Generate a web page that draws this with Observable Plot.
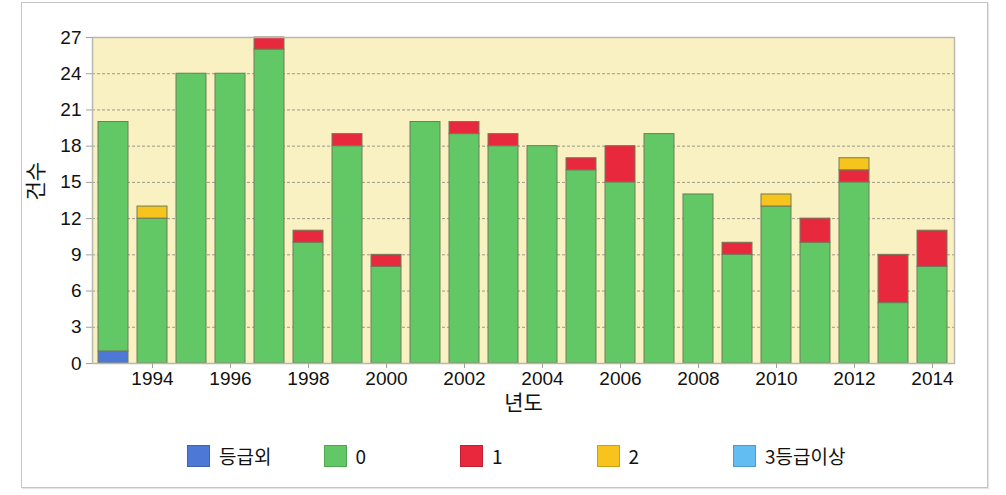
<!DOCTYPE html>
<html>
<head>
<meta charset="utf-8">
<script src="https://cdn.jsdelivr.net/npm/d3@7"></script>
<script src="https://cdn.jsdelivr.net/npm/@observablehq/plot@0.6"></script>
<style>
  html, body { margin: 0; padding: 0; background: #fff; }
  #wrap { position: relative; width: 1006px; height: 495px; overflow: hidden; font-family: "Liberation Sans", Arial, sans-serif; }
  #border { position: absolute; left: 21px; top: 2px; width: 965px; height: 484px; border: 1.5px solid #c4c4c4; box-shadow: 1px 1px 1px #e6e6e6; }
  #chart { position: absolute; left: 0; top: 0; }
  #legend { position: absolute; left: 187px; top: 444px; height: 24px; display: flex; }
  .item { width: 136.5px; display: flex; align-items: center; }
  .sw { width: 23px; height: 22px; box-sizing: border-box; border: 1px solid rgba(0,0,0,0.18); margin-right: 9px; flex: none; }
  .lab { font-family: "Noto Sans CJK KR", "Liberation Sans", sans-serif; font-size: 19px; color: #111; line-height: 22px; }
</style>
</head>
<body>
<div id="wrap">
  <div id="border"></div>
  <div id="chart"></div>
  <div id="legend"></div>
</div>
<script>
// ---- data ----
const years = [1993,1994,1995,1996,1997,1998,1999,2000,2001,2002,2003,2004,2005,2006,2007,2008,2009,2010,2011,2012,2013,2014];
const grades = ["등급외", "0", "1", "2", "3등급이상"];
const gradeColors = ["#4d78d5", "#62c866", "#e8283d", "#f6c41c", "#62bdf2"];
const gradeOut = [1,0,0,0,0,0,0,0,0,0,0,0,0,0,0,0,0,0,0,0,0,0];
const grade0   = [19,12,24,24,26,10,18,8,20,19,18,18,16,15,19,14,9,13,10,15,5,8];
const grade1   = [0,0,0,0,1,1,1,1,0,1,1,0,1,3,0,0,1,0,2,1,4,3];
const grade2   = [0,1,0,0,0,0,0,0,0,0,0,0,0,0,0,0,0,1,0,1,0,0];
const grade3   = [0,0,0,0,0,0,0,0,0,0,0,0,0,0,0,0,0,0,0,0,0,0];
const yTicks = [0,3,6,9,12,15,18,21,24,27];
const xTickYears = [1994,1996,1998,2000,2002,2004,2006,2008,2010,2012,2014];
const yLabel = "건수";
const xLabel = "년도";

const series = [gradeOut, grade0, grade1, grade2, grade3];
const rows = [];
years.forEach((yr, i) => {
  grades.forEach((g, k) => {
    if (series[k][i] > 0) rows.push({year: yr, grade: g, value: series[k][i]});
  });
});

const chart = Plot.plot({
  width: 1006,
  height: 420,
  marginLeft: 92,
  marginRight: 52,
  marginTop: 37,
  marginBottom: 57,
  style: {fontFamily: "'Liberation Sans', Arial, sans-serif", fontSize: "19px", color: "#111", background: "transparent"},
  x: {type: "band", domain: years, paddingInner: 0.22, paddingOuter: 0.12},
  y: {domain: [0, 27]},
  color: {domain: grades, range: gradeColors},
  marks: [
    Plot.frame({fill: "#faf1c3", stroke: null}),
    Plot.gridY(yTicks.filter(d => d > 0 && d < 27), {stroke: "#9a9a8a", strokeOpacity: 1, strokeDasharray: "3,2"}),
    Plot.barY(rows, {x: "year", y: "value", fill: "grade", order: grades, stroke: "#6d7d5a", strokeWidth: 1, inset: 0}),
    Plot.frame({stroke: "#b8b8b0", strokeWidth: 1.5}),
    Plot.axisY({ticks: yTicks, tickSize: 6, tickPadding: 5, stroke: "#a0a0a0", label: null, fontSize: 19}),
    Plot.axisX({ticks: xTickYears, tickFormat: d => String(d), tickSize: 5, tickPadding: 3, stroke: "#a0a0a0", label: null, fontSize: 19}),
    Plot.text([yLabel], {frameAnchor: "left", dx: -56, rotate: -90, fontSize: 21, fontFamily: "'Noto Sans CJK KR', sans-serif", fill: "#111"}),
    Plot.text([xLabel], {frameAnchor: "bottom", dy: 46, fontSize: 21, fontFamily: "'Noto Sans CJK KR', sans-serif", fill: "#111"})
  ]
});
document.getElementById("chart").appendChild(chart);

const legend = document.getElementById("legend");
grades.forEach((g, k) => {
  const it = document.createElement("div");
  it.className = "item";
  const sw = document.createElement("div");
  sw.className = "sw";
  sw.style.background = gradeColors[k];
  const lb = document.createElement("span");
  lb.className = "lab";
  lb.textContent = g;
  it.appendChild(sw);
  it.appendChild(lb);
  legend.appendChild(it);
});
</script>
</body>
</html>
